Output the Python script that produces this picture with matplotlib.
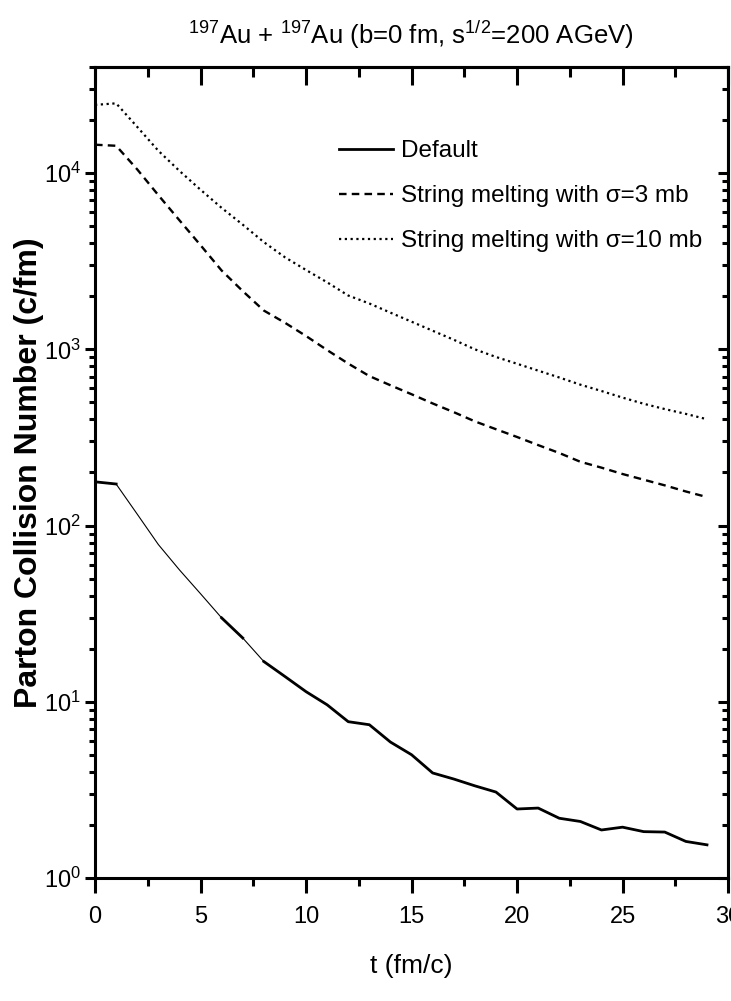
import matplotlib
matplotlib.use("Agg")
import matplotlib.pyplot as plt
from matplotlib.ticker import MultipleLocator, LogLocator, NullFormatter

plt.rcParams['font.family'] = ['Liberation Sans', 'DejaVu Sans']
plt.rcParams['mathtext.fontset'] = 'custom'
plt.rcParams['mathtext.rm'] = 'Liberation Sans'
plt.rcParams['mathtext.it'] = 'Liberation Sans:italic'
plt.rcParams['mathtext.bf'] = 'Liberation Sans:bold'

# time steps (fm/c)
t = list(range(30))

# parton collision rates
default = [177, 172, 116, 78, 56, 41, 29.9, 23, 16.9, 13.9,
           11.4, 9.6, 7.7, 7.4, 5.9, 5.0, 3.94, 3.64, 3.33, 3.07,
           2.46, 2.49, 2.18, 2.09, 1.87, 1.94, 1.83, 1.82, 1.61, 1.54]
sm_3mb = [14500, 14300, 10500, 7500, 5400, 3900, 2800, 2140, 1660, 1415,
          1190, 990, 830, 705, 625, 556, 493, 440, 390, 352,
          318, 286, 258, 230, 213, 196, 182, 169, 156, 145]
sm_10mb = [24400, 24900, 18300, 13400, 10300, 8050, 6350, 5100, 4060, 3330,
           2820, 2400, 2020, 1820, 1615, 1435, 1275, 1133, 1000, 905,
           828, 757, 692, 630, 580, 532, 491, 458, 430, 401]

labels = ['Default',
          'String melting with σ=3 mb',
          'String melting with σ=10 mb']

fig = plt.figure(figsize=(7.31, 10.01), dpi=100)
ax = fig.add_axes([0.130, 0.123, 0.866, 0.810])

# the default curve is drawn thin on two stretches in the original
ax.plot(t, default, color='black', linewidth=0.8)
ax.plot(t[:2], default[:2], color='black', linewidth=2.0)
ax.plot(t[6:8], default[6:8], color='black', linewidth=2.0)
ax.plot(t[8:], default[8:], color='black', linewidth=2.0, label=labels[0])
ax.plot(t, sm_3mb, color='black', linewidth=1.7, linestyle=(0, (3.2, 2.2)), label=labels[1])
ax.plot(t, sm_10mb, color='black', linewidth=1.6, linestyle=(0, (1, 1.6)), label=labels[2])

ax.set_yscale('log')
ax.set_xlim(0, 30)
ax.set_ylim(1, 4e4)

ax.xaxis.set_major_locator(MultipleLocator(5))
ax.xaxis.set_minor_locator(MultipleLocator(2.5))
ax.yaxis.set_major_locator(LogLocator(base=10, numticks=10))
ax.yaxis.set_minor_locator(LogLocator(base=10, subs=range(2, 10), numticks=50))
ax.yaxis.set_minor_formatter(NullFormatter())

for sp in ax.spines.values():
    sp.set_linewidth(2.2)

ax.tick_params(axis='x', which='major', direction='out', length=11, width=2.2,
               labelsize=17, pad=9)
ax.tick_params(axis='x', which='minor', direction='out', length=6, width=2.2)
ax.tick_params(axis='y', which='major', direction='out', length=7, width=2.2,
               labelsize=17, pad=3)
ax.tick_params(axis='y', which='minor', direction='out', length=4.5, width=2.2)

# mirrored ticks on top and right, pointing inward
top = ax.secondary_xaxis('top')
top.xaxis.set_major_locator(MultipleLocator(5))
top.xaxis.set_minor_locator(MultipleLocator(2.5))
top.tick_params(which='major', direction='in', length=13, width=2.2, labeltop=False)
top.tick_params(which='minor', direction='in', length=7, width=2.2)

right = ax.secondary_yaxis('right')
right.yaxis.set_major_locator(LogLocator(base=10, numticks=10))
right.yaxis.set_minor_locator(LogLocator(base=10, subs=range(2, 10), numticks=50))
right.tick_params(which='major', direction='in', length=7, width=2.2, labelright=False)
right.tick_params(which='minor', direction='in', length=4, width=2.2, labelright=False)
for s in (top, right):
    for sp in s.spines.values():
        sp.set_linewidth(2.2)

ax.set_xlabel('t (fm/c)', fontsize=19, labelpad=19)
ax.set_ylabel('Parton Collision Number (c/fm)', fontsize=23, fontweight='bold')
ax.yaxis.set_label_coords(-0.081, 0.5)

fig.text(0.562, 0.965, r'$^{197}$Au + $^{197}$Au (b=0 fm, s$^{1/2}$=200 AGeV)',
         ha='center', va='center', fontsize=18.5)

ax.legend(loc='upper left', bbox_to_anchor=(0.385, 0.910), frameon=False,
          fontsize=17.5, handlelength=2.25, handletextpad=0.33, labelspacing=0.95,
          borderpad=0, borderaxespad=0)

fig.savefig('out.png', dpi=100)
